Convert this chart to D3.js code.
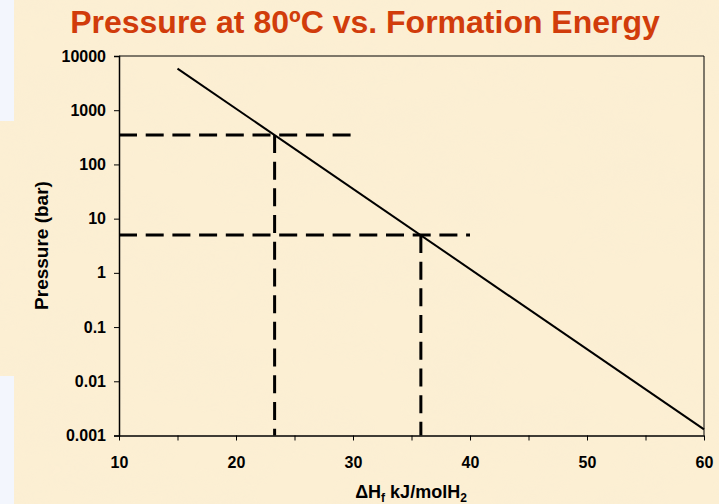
<!DOCTYPE html>
<html>
<head>
<meta charset="utf-8">
<script src="https://cdn.jsdelivr.net/npm/d3@7"></script>
<style>
  html, body { margin: 0; padding: 0; background: #FCEFD3; }
  svg { display: block; }
  text { font-family: "Liberation Sans", Arial, sans-serif; font-weight: bold; }
</style>
</head>
<body>
<svg id="chart" width="719" height="504"></svg>
<script>
// ---- data ----
const lineX = [15, 60];               // ΔHf kJ/molH2
const lineP = [5850, 0.0013];         // pressure (bar)
const guideX = [23.3, 35.8];          // dashed guide x positions
const guideP = [350, 5];              // dashed guide pressures
const guideXEnd = [30, 40];           // where the horizontal dashes stop
const xTicks = [10, 20, 30, 40, 50, 60];
const xMinorTicks = [15, 25, 35, 45, 55];
const yTicks = [10000, 1000, 100, 10, 1, 0.1, 0.01, 0.001];
const yTickLabels = ["10000", "1000", "100", "10", "1", "0.1", "0.01", "0.001"];
const titleText = "Pressure at 80ºC vs. Formation Energy";
const yTitle = "Pressure (bar)";

// ---- layout ----
const W = 719, H = 504;
const L = 119, R = 704, T = 56, B = 435.5;
const svg = d3.select("#chart");

// paper-like background
const defs = svg.append("defs");
const f = defs.append("filter").attr("id", "paper").attr("x", 0).attr("y", 0)
  .attr("width", "100%").attr("height", "100%");
f.append("feTurbulence").attr("type", "fractalNoise").attr("baseFrequency", "0.012 0.02")
  .attr("numOctaves", 3).attr("seed", 7).attr("result", "n");
f.append("feColorMatrix").attr("in", "n").attr("type", "matrix")
  .attr("values", "0 0 0 0 0.95  0 0 0 0 0.85  0 0 0 0 0.66  1.4 0 0 0 -0.55");

svg.append("rect").attr("width", W).attr("height", H).attr("fill", "#FCEFD3");
svg.append("rect").attr("width", W).attr("height", H).attr("filter", "url(#paper)").attr("opacity", 0.55);
svg.append("rect").attr("x", 0).attr("y", 0).attr("width", 14).attr("height", 121).attr("fill", "#F3F6FD");
svg.append("rect").attr("x", 0).attr("y", 376).attr("width", 14).attr("height", 128).attr("fill", "#F3F6FD");

const x = d3.scaleLinear().domain([10, 60]).range([L, R]);
const y = d3.scaleLog().domain([0.001, 10000]).range([B, T]);

// plot frame (top/right)
svg.append("path")
  .attr("d", `M${L},${T}H${R}V${B}`)
  .attr("fill", "none").attr("stroke", "#000").attr("stroke-width", 1);

// y axis
const yAxis = d3.axisLeft(y).tickValues(yTicks)
  .tickFormat((d, i) => yTickLabels[i]).tickSize(5).tickPadding(8);
const gy = svg.append("g").attr("transform", `translate(${L},0)`).call(yAxis);
gy.select(".domain").attr("stroke", "#000").attr("stroke-width", 1.5);
gy.selectAll(".tick line").attr("stroke", "#000").attr("stroke-width", 1);
gy.selectAll(".tick text").attr("font-size", 16).attr("fill", "#000")
  .attr("font-family", "Liberation Sans, Arial, sans-serif").attr("font-weight", "bold");

// x axis (minor ticks)
const gxm = svg.append("g").attr("transform", `translate(0,${B})`)
  .call(d3.axisBottom(x).tickValues(xMinorTicks).tickFormat("").tickSize(5).tickSizeOuter(0));
gxm.select(".domain").remove();
gxm.selectAll(".tick line").attr("stroke", "#000").attr("stroke-width", 1);

// x axis (major)
const gx = svg.append("g").attr("transform", `translate(0,${B})`)
  .call(d3.axisBottom(x).tickValues(xTicks).tickFormat(d3.format("d")).tickSize(5).tickSizeOuter(0));
gx.select(".domain").attr("stroke", "#000").attr("stroke-width", 1.5);
gx.selectAll(".tick line").attr("stroke", "#000").attr("stroke-width", 1);
gx.selectAll(".tick text").attr("font-size", 16).attr("fill", "#000")
  .attr("font-family", "Liberation Sans, Arial, sans-serif").attr("font-weight", "bold")
  .attr("y", 32.5).attr("dy", 0);

// dashed guides
const dash = "18,8.7";
guideX.forEach((gxv, i) => {
  svg.append("line")
    .attr("x1", x(10)).attr("x2", x(guideXEnd[i]))
    .attr("y1", y(guideP[i])).attr("y2", y(guideP[i]))
    .attr("stroke", "#000").attr("stroke-width", 3).attr("stroke-dasharray", dash);
  svg.append("line")
    .attr("x1", x(gxv)).attr("x2", x(gxv))
    .attr("y1", y(guideP[i])).attr("y2", y(0.001))
    .attr("stroke", "#000").attr("stroke-width", 3).attr("stroke-dasharray", dash);
});

// main line
const pts = lineX.map((v, i) => [v, lineP[i]]);
svg.append("path")
  .attr("d", d3.line().x(d => x(d[0])).y(d => y(d[1]))(pts))
  .attr("fill", "none").attr("stroke", "#000").attr("stroke-width", 2);

// title
svg.append("text").attr("x", 365).attr("y", 33).attr("text-anchor", "middle")
  .attr("font-size", 32).attr("fill", "#D13C0B").text(titleText);

// y title
svg.append("text").attr("transform", "translate(48,245.5) rotate(-90)")
  .attr("text-anchor", "middle").attr("font-size", 19).attr("fill", "#000").text(yTitle);

// x title with subscripts
const xt = svg.append("text").attr("x", 411).attr("y", 497.5).attr("text-anchor", "middle")
  .attr("font-size", 18).attr("fill", "#000");
xt.append("tspan").text("ΔH");
xt.append("tspan").attr("font-size", 12).attr("dy", 4).text("f");
xt.append("tspan").attr("dy", -4).text(" kJ/molH");
xt.append("tspan").attr("font-size", 12).attr("dy", 4).text("2");
</script>
</body>
</html>
